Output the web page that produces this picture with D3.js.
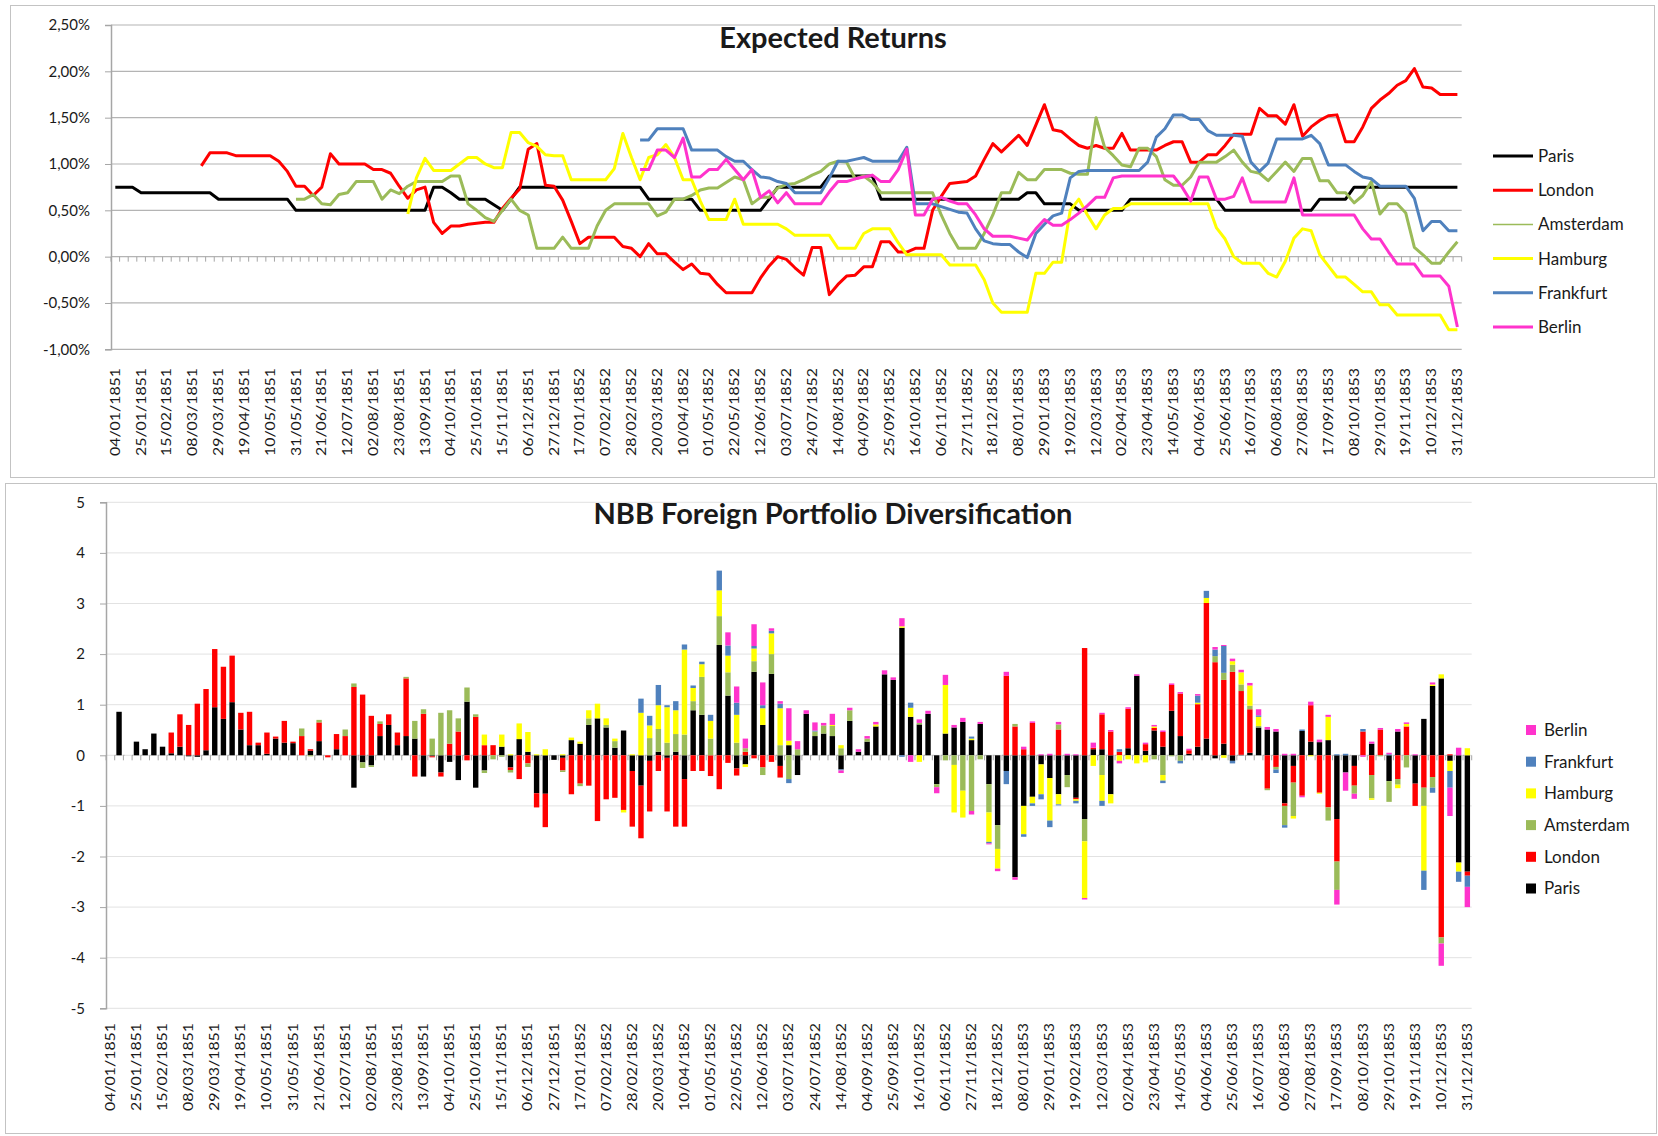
<!DOCTYPE html>
<html>
<head>
<meta charset="utf-8">
<script src="https://cdn.jsdelivr.net/npm/d3@7"></script>
<style>
body { margin: 0; background: #fff; }
svg text { font-family: Lato, "Open Sans", sans-serif; fill: #1a1a1a; }
</style>
</head>
<body>
<svg id="chart" width="1658" height="1136"></svg>
<script>
// semanas (157 observaciones, 04/01/1851 .. 31/12/1853)
var weeks = d3.range(157);

var tick_labels = ["04/01/1851","25/01/1851","15/02/1851","08/03/1851","29/03/1851","19/04/1851","10/05/1851","31/05/1851","21/06/1851","12/07/1851","02/08/1851","23/08/1851","13/09/1851","04/10/1851","25/10/1851","15/11/1851","06/12/1851","27/12/1851","17/01/1852","07/02/1852","28/02/1852","20/03/1852","10/04/1852","01/05/1852","22/05/1852","12/06/1852","03/07/1852","24/07/1852","14/08/1852","04/09/1852","25/09/1852","16/10/1852","06/11/1852","27/11/1852","18/12/1852","08/01/1853","29/01/1853","19/02/1853","12/03/1853","02/04/1853","23/04/1853","14/05/1853","04/06/1853","25/06/1853","16/07/1853","06/08/1853","27/08/1853","17/09/1853","08/10/1853","29/10/1853","19/11/1853","10/12/1853","31/12/1853"];

var cities = ["Paris", "London", "Amsterdam", "Hamburg", "Frankfurt", "Berlin"];
var city_colors = ["#000000", "#ff0000", "#9bbb59", "#ffff00", "#4f81bd", "#ff33cc"];

var er_ticks = [-1, -0.5, 0, 0.5, 1, 1.5, 2, 2.5];
var nbb_ticks = [-5, -4, -3, -2, -1, 0, 1, 2, 3, 4, 5];

/* ---------- expected returns (%) ---------- */
var er_paris = [0.75,0.75,0.75,0.69,0.69,0.69,0.69,0.69,0.69,0.69,
0.69,0.69,0.62,0.62,0.62,0.62,0.62,0.62,0.62,0.62,
0.62,0.50,0.50,0.50,0.50,0.50,0.50,0.50,0.50,0.50,
0.50,0.50,0.50,0.50,0.50,0.50,0.50,0.75,0.75,0.69,
0.62,0.62,0.62,0.62,0.56,0.50,0.62,0.75,0.75,0.75,
0.75,0.75,0.75,0.75,0.75,0.75,0.75,0.75,0.75,0.75,
0.75,0.75,0.62,0.62,0.62,0.62,0.62,0.62,0.50,0.50,
0.50,0.50,0.50,0.50,0.50,0.50,0.62,0.75,0.75,0.75,
0.75,0.75,0.75,0.87,0.87,0.87,0.87,0.87,0.87,0.62,
0.62,0.62,0.62,0.62,0.62,0.62,0.62,0.62,0.62,0.62,
0.62,0.62,0.62,0.62,0.62,0.62,0.69,0.69,0.57,0.57,
0.57,0.57,0.50,0.50,0.50,0.50,0.50,0.50,0.62,0.62,
0.62,0.62,0.62,0.62,0.62,0.62,0.62,0.62,0.62,0.50,
0.50,0.50,0.50,0.50,0.50,0.50,0.50,0.50,0.50,0.50,
0.62,0.62,0.62,0.62,0.75,0.75,0.75,0.75,0.75,0.75,
0.75,0.75,0.75,0.75,0.75,0.75,0.75];

var er_london = [null,null,null,null,null,null,null,null,null,null,
0.98,1.12,1.12,1.12,1.09,1.09,1.09,1.09,1.09,1.03,
0.92,0.76,0.76,0.66,0.75,1.11,1.00,1.00,1.00,1.00,
0.94,0.94,0.90,0.76,0.63,0.72,0.75,0.37,0.25,0.33,
0.33,0.35,0.36,0.37,0.37,0.52,0.63,0.73,1.16,1.22,
0.77,0.76,0.61,0.38,0.14,0.21,0.21,0.21,0.21,0.11,
0.09,0.00,0.14,0.03,0.03,-0.06,-0.14,-0.08,-0.18,-0.19,
-0.30,-0.39,-0.39,-0.39,-0.39,-0.23,-0.10,0.00,-0.03,-0.12,
-0.20,0.10,0.10,-0.41,-0.30,-0.21,-0.20,-0.11,-0.11,0.16,
0.16,0.05,0.05,0.09,0.09,0.50,0.65,0.79,0.80,0.81,
0.87,1.05,1.22,1.13,1.22,1.31,1.20,1.42,1.64,1.37,
1.35,1.27,1.20,1.17,1.20,1.17,1.17,1.33,1.15,1.15,
1.15,1.15,1.20,1.24,1.24,1.02,1.02,1.10,1.10,1.20,
1.32,1.32,1.32,1.60,1.52,1.52,1.43,1.64,1.30,1.40,
1.47,1.52,1.53,1.24,1.24,1.40,1.60,1.69,1.76,1.85,
1.90,2.03,1.83,1.82,1.75,1.75,1.75];

var er_amsterdam = [null,null,null,null,null,null,null,null,null,null,
null,null,null,null,null,null,null,null,null,null,
null,0.62,0.62,0.67,0.57,0.56,0.67,0.69,0.81,0.81,
0.81,0.62,0.72,0.68,0.76,0.81,0.81,0.81,0.81,0.87,
0.87,0.57,0.50,0.42,0.38,0.50,0.62,0.50,0.45,0.09,
0.09,0.09,0.21,0.09,0.09,0.09,0.33,0.50,0.57,0.57,
0.57,0.57,0.57,0.44,0.48,0.62,0.62,0.66,0.72,0.74,
0.74,0.80,0.86,0.83,0.57,0.64,0.64,0.74,0.78,0.79,
0.83,0.88,0.92,1.00,1.03,1.02,0.84,0.87,0.80,0.69,
0.69,0.69,0.69,0.69,0.69,0.69,0.45,0.25,0.09,0.09,
0.09,0.25,0.45,0.69,0.69,0.91,0.83,0.83,0.94,0.94,
0.94,0.90,0.89,0.89,1.50,1.18,1.09,0.99,0.97,1.17,
1.17,1.08,0.83,0.77,0.77,0.86,1.02,1.02,1.02,1.08,
1.15,1.02,0.92,0.90,0.82,0.92,1.02,0.92,1.06,1.06,
0.82,0.82,0.69,0.69,0.58,0.66,0.81,0.46,0.57,0.57,
0.47,0.10,0.02,-0.07,-0.07,0.05,0.16];

var er_hamburg = [null,null,null,null,null,null,null,null,null,null,
null,null,null,null,null,null,null,null,null,null,
null,null,null,null,null,null,null,null,null,null,
null,null,null,null,0.46,0.85,1.06,0.93,0.93,0.93,
1.00,1.07,1.07,1.00,0.96,0.96,1.34,1.34,1.23,1.19,
1.10,1.09,1.09,0.83,0.83,0.83,0.83,0.83,0.95,1.33,
1.07,0.83,1.07,1.10,1.21,1.07,0.83,0.83,0.60,0.40,
0.40,0.40,0.62,0.35,0.35,0.35,0.35,0.35,0.30,0.23,
0.23,0.23,0.23,0.23,0.09,0.09,0.09,0.25,0.30,0.30,
0.30,0.15,0.02,0.02,0.02,0.02,0.02,-0.09,-0.09,-0.09,
-0.09,-0.25,-0.50,-0.60,-0.60,-0.60,-0.60,-0.18,-0.18,-0.06,
-0.06,0.50,0.62,0.45,0.30,0.45,0.52,0.52,0.57,0.57,
0.57,0.57,0.57,0.57,0.57,0.57,0.57,0.57,0.31,0.19,
0.00,-0.07,-0.07,-0.07,-0.18,-0.22,-0.05,0.20,0.30,0.28,
0.02,-0.10,-0.22,-0.22,-0.30,-0.38,-0.38,-0.52,-0.52,-0.63,
-0.63,-0.63,-0.63,-0.63,-0.63,-0.79,-0.79];

var er_frankfurt = [null,null,null,null,null,null,null,null,null,null,
null,null,null,null,null,null,null,null,null,null,
null,null,null,null,null,null,null,null,null,null,
null,null,null,null,null,null,null,null,null,null,
null,null,null,null,null,null,null,null,null,null,
null,null,null,null,null,null,null,null,null,null,
null,1.26,1.26,1.38,1.38,1.38,1.38,1.15,1.15,1.15,
1.15,1.08,1.03,1.03,0.94,0.86,0.85,0.81,0.79,0.69,
0.69,0.69,0.69,0.85,1.03,1.03,1.05,1.07,1.03,1.03,
1.03,1.03,1.18,0.57,0.57,0.57,0.54,0.51,0.48,0.47,
0.30,0.17,0.14,0.13,0.13,0.05,-0.01,0.25,0.35,0.44,
0.47,0.85,0.92,0.93,0.93,0.93,0.93,0.93,0.93,0.93,
1.02,1.29,1.38,1.53,1.53,1.48,1.48,1.36,1.31,1.31,
1.31,1.30,1.02,0.92,1.01,1.27,1.27,1.27,1.27,1.31,
1.22,0.99,0.99,0.99,0.92,0.86,0.84,0.76,0.76,0.76,
0.76,0.63,0.28,0.38,0.38,0.28,0.28];

var er_berlin = [null,null,null,null,null,null,null,null,null,null,
null,null,null,null,null,null,null,null,null,null,
null,null,null,null,null,null,null,null,null,null,
null,null,null,null,null,null,null,null,null,null,
null,null,null,null,null,null,null,null,null,null,
null,null,null,null,null,null,null,null,null,null,
null,0.94,0.94,1.15,1.15,1.07,1.28,0.86,0.86,0.94,
0.94,1.05,0.94,0.83,0.94,0.64,0.71,0.58,0.69,0.57,
0.57,0.57,0.57,0.70,0.81,0.81,0.84,0.86,0.88,0.81,
0.81,0.94,1.16,0.45,0.45,0.62,0.64,0.60,0.57,0.57,
0.45,0.30,0.22,0.22,0.22,0.20,0.18,0.30,0.40,0.34,
0.34,0.40,0.47,0.55,0.64,0.64,0.85,0.87,0.87,0.87,
0.87,0.87,0.87,0.87,0.75,0.60,0.86,0.86,0.62,0.62,
0.65,0.85,0.59,0.59,0.59,0.59,0.59,0.85,0.45,0.45,
0.45,0.45,0.45,0.45,0.45,0.30,0.19,0.19,0.05,-0.08,
-0.08,-0.08,-0.21,-0.21,-0.21,-0.32,-0.76];

/* ---------- NBB foreign portfolio changes ---------- */
var nbb_paris = [0,0.86,0,0.27,0.12,0.43,0.17,0.04,0.17,-0.02,
-0.03,0.10,0.95,0.72,1.05,0.51,0.20,0.20,0.03,0.33,
0.25,0.24,0,0.09,0.28,0,0.12,0,-0.64,-0.14,
-0.20,0.38,0.60,0.20,0.38,0.33,-0.42,-0.02,-0.34,-0.13,
-0.49,1.06,-0.64,-0.30,0,0.17,-0.24,0.32,0.07,-0.75,
-0.76,-0.09,-0.05,0.30,0.23,0.60,0.73,0.55,0.15,0.49,
-0.31,-0.60,-0.11,0.07,-0.05,0.07,-0.47,0.89,0.80,0,
2.18,1.18,-0.26,-0.18,1.65,0.60,1.61,-0.21,0.20,-0.39,
0.82,0.38,0.43,0.38,-0.28,0.68,0.07,0.27,0.57,1.60,
1.49,2.52,0.76,0.61,0.82,-0.57,0.43,0.55,0.66,0.30,
0.62,-0.57,-1.38,-0.31,-2.41,-1.00,-0.82,-0.18,-0.45,-0.77,
-0.39,-0.84,-1.26,0.12,0.12,-0.77,0,0.14,1.57,0.09,
0.49,0.17,0.88,0.38,0.03,0.17,0.33,-0.06,0.23,-0.11,
0.01,0.05,0.55,0.51,0.47,-0.95,-0.21,0.48,0.27,0.26,
0.30,-1.26,-0.34,-0.21,0,0.23,0,-0.51,0.47,0,
-0.56,0.72,1.37,1.52,-0.11,-2.12,-2.30];

var nbb_london = [0,0,0,0,0,0,0,0.41,0.64,0.60,
1.02,1.21,1.15,1.03,0.92,0.33,0.66,0.05,0.42,0.04,
0.43,0.03,0.38,0.03,0.37,-0.04,0.30,0.38,1.35,1.20,
0.78,0.24,0.21,0.25,1.14,-0.42,0.82,-0.02,-0.08,0.23,
0.47,-0.10,0.76,0.20,0.20,0,-0.05,-0.47,-0.16,-0.28,
-0.66,0,-0.25,-0.77,-0.56,-0.60,-1.30,-0.87,-0.84,-1.08,
-1.10,-1.04,-1.00,-0.31,-1.06,-1.41,-0.94,-0.31,-0.31,-0.41,
-0.67,-0.15,-0.14,0.07,-0.06,-0.24,-0.13,-0.23,0,0,
0,0,0,0,0,0,0,0,0,0,
0,0,0,0,0,0,0,0,0,0,
0,0,0,1.57,0.57,0.12,0.64,0,0,0.51,
0,-0.03,2.12,0.03,0.69,0.47,0.07,0.78,0,0.13,
0.05,0.29,0.51,0.84,0.07,0.84,2.68,1.84,1.26,1.65,
1.26,0.86,0,-0.66,-0.23,-0.05,-0.33,-0.80,0.72,-0.74,
-1.03,-0.84,0,-0.39,0.47,-0.39,0.51,0,-0.47,0.57,
-0.44,-0.64,-0.43,-3.60,0.02,0,-0.08];

var nbb_amsterdam = [0,0,0,0,0,0,0,0,0,0,
0,0,0,0,0,0,0,0,0,0,
0,0,0.15,-0.02,0.05,0,0,0.13,0.07,-0.11,
-0.03,0.05,0,0,0.03,0.35,0.09,0.33,0.84,0.66,
0.26,0.28,0.05,-0.05,-0.08,-0.03,-0.05,0,-0.07,0,
0,0,-0.03,0,-0.05,0.13,0,0.05,0.13,0,
0,0,0.34,0.45,0.25,0.35,0.41,0.18,0.75,0.33,
0.57,0.46,0.25,0.07,0.21,-0.15,0.39,0.20,-0.47,0.12,
0,0.09,0.16,0.20,0.14,0.21,0,0.06,0,0,
0,0,0,0.03,0,-0.06,-0.10,-0.19,-0.70,-1.10,
-0.08,-0.56,-0.47,0,0.05,0,0,0,0,0.10,
-0.24,0,-0.44,0,-0.39,0,0,0,0,0,
-0.08,-0.39,-0.02,-0.11,0,0,0,0.12,0.14,0.14,
0.13,0.07,0.03,-0.03,-0.05,-0.38,-0.66,0,0,0,
-0.26,-0.56,0,-0.16,0,-0.46,-0.02,-0.41,-0.11,-0.24,
0,-0.36,-0.21,-0.12,0,0,0];

var nbb_hamburg = [0,0,0,0,0,0,0,0,0,0,
0,0,0,0,0,0,0,0,0,0,
0,0,0,0,0,0,0,0,0,0,
0,0,0,0,0,0,0,0,0,0,
0,0,0,0.21,0,0.24,0.02,0.31,0.39,0.02,
0.12,0,0.02,0.05,0.04,0.16,0.29,0.13,0.05,-0.05,
0.02,0.84,0.25,0.47,0.70,0.47,1.68,0.26,0.25,0.35,
0.51,0.33,0.55,-0.05,0.25,0.33,0.41,0.73,0.09,0,
0,0,0,0.02,0.06,0,0,0,0.04,0,
0,0.03,0.18,-0.13,0,0,0.96,-0.94,-0.53,0.03,
0,-0.58,-0.39,0,0,-0.56,-0.13,-0.59,-0.84,-0.20,
0,-0.03,-1.12,-0.21,-0.51,-0.18,-0.11,-0.08,-0.16,-0.14,
0.03,-0.11,0,0,0,0.03,0.10,0,-0.05,0.07,
0.24,0.40,0.18,0,0,0,-0.05,0,-0.02,-0.02,
0.46,0,0,0,0,-0.03,0,0,-0.07,0.05,
0,-1.28,0.03,0.08,-0.20,-0.18,0.14];

var nbb_frankfurt = [0,0,0,0,0,0,0,0,0,0,
0,0,0,0,0,0,0,0,0,0,
0,0,0,0,0,0,0,0,0,0,
0,0,0,0,0,0,0,0,0,0,
0,0,0,0,0,0,0,0,0,0,
0,0,0,0,0,0,0,0,0,0,
0,0.28,0.19,0.40,0.04,0.18,0.10,0.05,0.05,0.12,
0.39,0.20,0.24,0,0.05,0.06,0.05,0.09,-0.08,0,
0,0.02,0,0,-0.02,0,0,0,0,0,
0,-0.03,0.10,0,0,0,0,0,0,0.04,
0,-0.03,0,-0.26,0,-0.05,-0.05,-0.10,-0.13,-0.02,
0,-0.05,0,0,-0.10,0,0.05,0,0,0,
0,-0.05,0,-0.05,0,0.14,0.14,0.13,0.53,-0.05,
0,0,0.03,0,-0.07,-0.05,0,0.03,0,0,
0,0.02,0.03,0,0.05,0,0,0.02,0,0,
0,-0.38,-0.10,0,-0.33,-0.20,-0.22];

var nbb_berlin = [0,0,0,0,0,0,0,0,0,0,
0,0,0,0,0,0,0,0,0,0,
0,0,0,0,0,0,0,0,0,0,
0,0,0,0,0,0,0,0,0,0,
0,0,0,0,0,0,0,0,0,0,
0,0,0,0,0,0,0,0,0,0,
0,0,0,0,0,0,0,0,0,0,
0,0.26,0.32,0.19,0.43,0.45,0.05,0.05,0.64,0.16,
0.07,0.16,0.05,0.22,-0.05,0.05,0.05,0.05,0.05,0.08,
0.05,0.16,-0.13,0.07,0.06,-0.12,0.20,0.05,0.08,-0.07,
0.04,-0.02,-0.05,0.08,-0.05,0.05,0.03,0.02,0.03,0.05,
0.03,0.02,-0.03,0.10,0.03,0.03,-0.05,0.03,0.03,0.03,
0.03,0.03,0.03,0.03,0.03,0.03,0,0.05,0.02,0.05,
0.05,0.05,0.12,0.05,0.05,0.03,0.03,-0.03,0.07,0.05,
0.04,-0.29,-0.36,-0.10,-0.03,0.04,0.03,0.03,0.05,0.03,
0.02,0,0.04,-0.44,-0.56,0.15,-0.40];

var er_series = [er_paris, er_london, er_amsterdam, er_hamburg, er_frankfurt, er_berlin];
var nbb_series = [nbb_paris, nbb_london, nbb_amsterdam, nbb_hamburg, nbb_frankfurt, nbb_berlin];

var locale = d3.formatLocale({decimal: ",", thousands: ".", grouping: [3], currency: ["", ""], minus: "-"});
var fmt_pct = locale.format(".2f");

var grid_color = "#b4b4b4";
var axis_color = "#a6a6a6";

var svg = d3.select("#chart");

// marcos de los dos graficos
svg.append("rect").attr("x", 10.5).attr("y", 5.5).attr("width", 1644).attr("height", 472)
	.attr("fill", "none").attr("stroke", "#c3c3c3");
svg.append("rect").attr("x", 5.5).attr("y", 483.5).attr("width", 1651).attr("height", 650)
	.attr("fill", "none").attr("stroke", "#c3c3c3");

// etiquetas de fecha giradas
function date_labels(g, x, y_top) {
	g.selectAll("text.date")
		.data(tick_labels)
		.enter()
		.append("text")
		.attr("class", "date")
		.attr("transform", function(d, k) {
			return "translate(" + (x(k * 3) + x.bandwidth() / 2) + "," + y_top + ") rotate(-90)";
		})
		.attr("dy", "0.35em")
		.attr("text-anchor", "end")
		.attr("font-size", 13)
		.attr("textLength", 88)
		.attr("lengthAdjust", "spacingAndGlyphs")
		.text(function(d) { return d; });
}

// marcas de categoria sobre la linea del cero
function category_ticks(g, x, y0) {
	g.selectAll("line.cat")
		.data(d3.range(weeks.length + 1))
		.enter()
		.append("line")
		.attr("class", "cat")
		.attr("x1", function(i) { return x.range()[0] + i * x.step(); })
		.attr("x2", function(i) { return x.range()[0] + i * x.step(); })
		.attr("y1", y0)
		.attr("y2", y0 + 5)
		.attr("stroke", axis_color);
}

/* ------------- Expected Returns ------------- */
var x_top = d3.scaleBand().domain(weeks).range([111, 1461.7]);
var y_top = d3.scaleLinear().domain([-1, 2.5]).range([349.3, 25]);

var top_g = svg.append("g");

top_g.selectAll("line.grid")
	.data(er_ticks)
	.enter()
	.append("line")
	.attr("class", "grid")
	.attr("x1", 111).attr("x2", 1461.7)
	.attr("y1", function(d) { return y_top(d); })
	.attr("y2", function(d) { return y_top(d); })
	.attr("stroke", grid_color)
	.attr("stroke-width", 1.2);

var y_axis_top = top_g.append("g")
	.attr("transform", "translate(111,0)")
	.call(d3.axisLeft(y_top).tickValues(er_ticks).tickSize(6).tickPadding(15)
		.tickFormat(function(d) { return fmt_pct(d) + "%"; }));
y_axis_top.select(".domain").attr("stroke", axis_color).attr("stroke-width", 1.5);
y_axis_top.selectAll(".tick line").attr("stroke", axis_color);
y_axis_top.selectAll("text").attr("font-size", 15).attr("font-family", "Lato");

category_ticks(top_g, x_top, y_top(0));
date_labels(top_g, x_top, 368);

var lineFunction = d3.line()
	.defined(function(d) { return d !== null; })
	.x(function(d, i) { return x_top(i) + x_top.bandwidth() / 2; })
	.y(function(d) { return y_top(d); });

er_series.forEach(function(s, k) {
	top_g.append("path")
		.attr("d", lineFunction(s))
		.attr("fill", "none")
		.attr("stroke", city_colors[k])
		.attr("stroke-width", 3)
		.attr("stroke-linejoin", "round");
});

top_g.append("text")
	.attr("x", 833).attr("y", 48)
	.attr("text-anchor", "middle")
	.attr("font-size", 29)
	.attr("font-weight", "bold")
	.text("Expected Returns");

var legend_top = top_g.selectAll("g.leg")
	.data(cities)
	.enter()
	.append("g")
	.attr("class", "leg")
	.attr("transform", function(d, k) { return "translate(1493," + (156 + k * 34.2) + ")"; });
legend_top.append("line")
	.attr("x1", 0).attr("x2", 40)
	.attr("stroke", function(d, k) { return city_colors[k]; })
	.attr("stroke-width", function(d) { return d === "Amsterdam" ? 1.5 : 3; });
legend_top.append("text")
	.attr("x", 45).attr("dy", "0.35em")
	.attr("font-size", 17)
	.text(function(d) { return d; });

/* ------------- NBB Foreign Portfolio Diversification ------------- */
var x_bot = d3.scaleBand().domain(weeks).range([106, 1471.7]);
var y_bot = d3.scaleLinear().domain([-5, 5]).range([1008.3, 502.3]);

var bot_g = svg.append("g");

// rejilla muy clara en el grafico de barras
bot_g.selectAll("line.grid")
	.data(nbb_ticks)
	.enter()
	.append("line")
	.attr("class", "grid")
	.attr("x1", 106).attr("x2", 1471.7)
	.attr("y1", function(d) { return y_bot(d); })
	.attr("y2", function(d) { return y_bot(d); })
	.attr("stroke", "#e2e2e2")
	.attr("stroke-width", 1);

var y_axis_bot = bot_g.append("g")
	.attr("transform", "translate(106,0)")
	.call(d3.axisLeft(y_bot).tickValues(nbb_ticks).tickSize(6).tickPadding(15)
		.tickFormat(locale.format("d")));
y_axis_bot.select(".domain").attr("stroke", axis_color).attr("stroke-width", 1.5);
y_axis_bot.selectAll(".tick line").attr("stroke", axis_color);
y_axis_bot.selectAll("text").attr("font-size", 15).attr("font-family", "Lato");

var rows = weeks.map(function(i) {
	var r = {};
	cities.forEach(function(c, k) { r[c] = nbb_series[k][i]; });
	return r;
});

var stacked = d3.stack()
	.keys(cities)
	.offset(d3.stackOffsetDiverging)(rows);

var bar_w = x_bot.bandwidth() * 0.62;

stacked.forEach(function(layer, k) {
	bot_g.append("g")
		.attr("fill", city_colors[k])
		.selectAll("rect")
		.data(layer)
		.enter()
		.append("rect")
		.attr("x", function(d, i) { return x_bot(i) + (x_bot.bandwidth() - bar_w) / 2; })
		.attr("width", bar_w)
		.attr("y", function(d) { return y_bot(Math.max(d[0], d[1])); })
		.attr("height", function(d) { return Math.abs(y_bot(d[0]) - y_bot(d[1])); });
});

category_ticks(bot_g, x_bot, y_bot(0));
bot_g.append("line")
	.attr("x1", 106).attr("x2", 1471.7)
	.attr("y1", y_bot(0)).attr("y2", y_bot(0))
	.attr("stroke", axis_color)
	.attr("stroke-width", 1)
	.attr("stroke-dasharray", "1,7.7");
date_labels(bot_g, x_bot, 1023);

bot_g.append("text")
	.attr("x", 833).attr("y", 524)
	.attr("text-anchor", "middle")
	.attr("font-size", 29)
	.attr("font-weight", "bold")
	.text("NBB Foreign Portfolio Diversification");

var legend_bot = bot_g.selectAll("g.leg")
	.data(cities.slice().reverse())
	.enter()
	.append("g")
	.attr("class", "leg")
	.attr("transform", function(d, k) { return "translate(1526," + (730 + k * 31.7) + ")"; });
legend_bot.append("rect")
	.attr("x", 0).attr("y", -5).attr("width", 10).attr("height", 10)
	.attr("fill", function(d) { return city_colors[cities.indexOf(d)]; });
legend_bot.append("text")
	.attr("x", 18).attr("dy", "0.35em")
	.attr("font-size", 17)
	.text(function(d) { return d; });
</script>
</body>
</html>
